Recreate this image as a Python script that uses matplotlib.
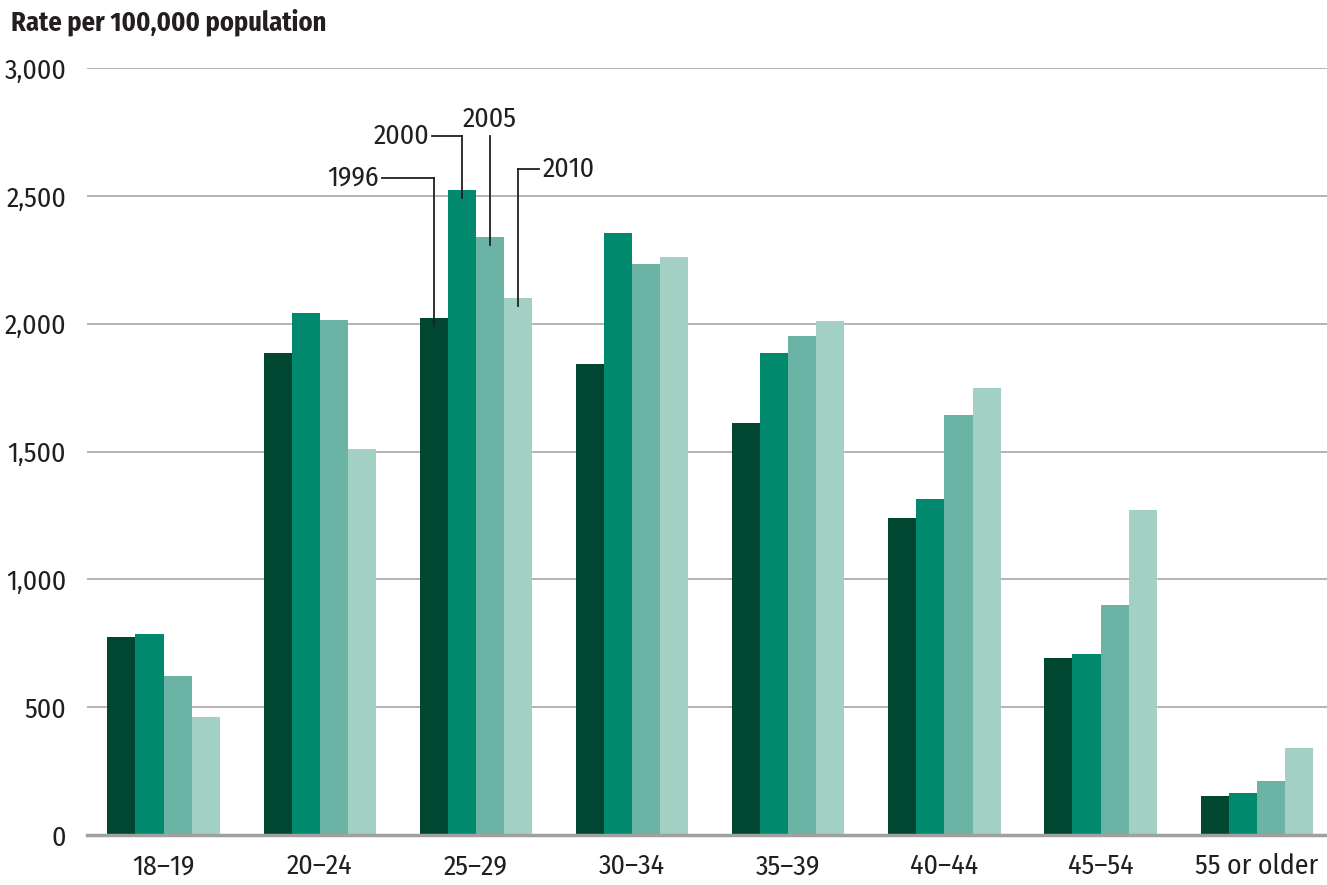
import numpy as np
import matplotlib
matplotlib.use("Agg")
import matplotlib.pyplot as plt
from matplotlib import font_manager

names = {f.name for f in font_manager.fontManager.ttflist}
prefs = ["Fira Sans Condensed", "PT Sans Narrow", "Roboto Condensed", "Open Sans Condensed",
         "Archivo Narrow", "Liberation Sans Narrow", "DejaVu Sans"]
fam = next(p for p in prefs if p in names)
plt.rcParams['font.family'] = [fam, 'DejaVu Sans']

ages = ["18\u201319", "20\u201324", "25\u201329", "30\u201334", "35\u201339", "40\u201344", "45\u201354", "55 or older"]
years = ["1996", "2000", "2005", "2010"]
r1996 = [773, 1887, 2023, 1844, 1613, 1242, 691, 152]
r2000 = [785, 2043, 2523, 2355, 1887, 1316, 707, 164]
r2005 = [621, 2016, 2340, 2234, 1953, 1644, 898, 211]
r2010 = [461, 1512, 2101, 2262, 2012, 1750, 1270, 340]
colors = ["#004631", "#00896c", "#6bb3a5", "#a3d0c5"]

series = [r1996, r2000, r2005, r2010]
x = np.arange(len(ages))
w = 0.18
offsets = (np.arange(4) - 1.5) * w

fig = plt.figure(figsize=(13.27, 8.85), dpi=100)
ax = fig.add_axes([0.0656, 0.0565, 0.9344, 0.8665])

for vals, off, c in zip(series, offsets, colors):
    ax.bar(x + off, vals, width=w, color=c, zorder=3, linewidth=0)

ax.set_ylim(0, 3000)
ax.set_xlim(-0.49, 7.45)
ax.set_yticks(np.arange(0, 3001, 500))
ax.set_yticklabels([f"{v:,}" for v in range(0, 3001, 500)])
ax.set_xticks(x)
ax.set_xticklabels(ages)
ax.tick_params(axis='both', length=0, labelsize=20, colors="#231f20")
ax.tick_params(axis='y', pad=15)
ax.tick_params(axis='x', pad=13)
ax.grid(axis='y', color="#a0a0a0", linewidth=1.1, zorder=0)
for s in ['top', 'right', 'left']:
    ax.spines[s].set_visible(False)
ax.spines['bottom'].set_color("#a0a0a0")
ax.spines['bottom'].set_linewidth(2.5)
ax.spines['bottom'].set_zorder(4)

fig.text(0.008, 0.99, "Rate per 100,000 population", fontsize=19, fontweight='bold',
         color="#231f20", ha='left', va='top')

# callouts on the 25-29 group
g = 2
lc = "#231f20"
# (elbow y, horizontal length; negative = to the left, 0 = label on top)
callouts = [(2570, -0.33), (2734, -0.19), (2734, 0.0), (2605, 0.135)]
for i, (yel, dx) in enumerate(callouts):
    bx = x[g] + offsets[i]
    top = series[i][g] - 31
    ax.plot([bx, bx], [top, yel], color=lc, lw=1.3, zorder=5, clip_on=False)
    if dx != 0:
        ax.plot([bx, bx + dx], [yel, yel], color=lc, lw=1.3, zorder=5, clip_on=False)
        ha = 'right' if dx < 0 else 'left'
        ax.text(bx + dx + (-0.02 if dx < 0 else 0.02), yel, years[i], ha=ha, va='center',
                fontsize=20, color=lc)
    else:
        ax.text(bx, yel + 15, years[i], ha='center', va='bottom', fontsize=20, color=lc)

fig.savefig("out.png", dpi=100)
